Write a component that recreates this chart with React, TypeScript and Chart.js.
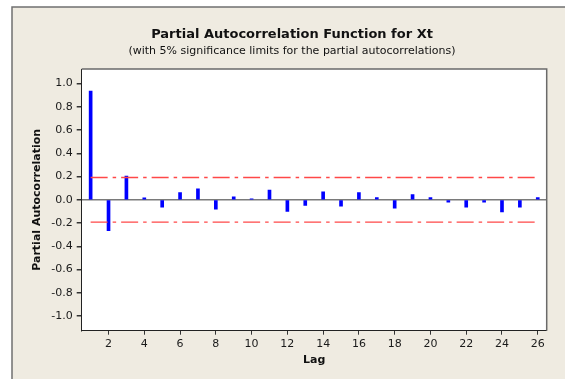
import React, { useEffect, useRef } from 'react';
import { Chart, registerables } from 'chart.js';

Chart.register(...registerables);

const lags = [1, 2, 3, 4, 5, 6, 7, 8, 9, 10, 11, 12, 13, 14, 15, 16, 17, 18, 19, 20, 21, 22, 23, 24, 25, 26];
const pacf = [0.935, -0.265, 0.205, 0.018, -0.064, 0.062, 0.095, -0.08, 0.027, 0.009, 0.085, -0.1, -0.048, 0.07, -0.055, 0.063, 0.02, -0.072, 0.046, 0.02, -0.02, -0.063, -0.02, -0.103, -0.063, 0.02];
const upperLimit = 0.192;
const lowerLimit = -0.192;
const xTickValues = [2, 4, 6, 8, 10, 12, 14, 16, 18, 20, 22, 24, 26];
const yTickValues = [-1.0, -0.8, -0.6, -0.4, -0.2, 0.0, 0.2, 0.4, 0.6, 0.8, 1.0];

const titleText = 'Partial Autocorrelation Function for Xt';
const subtitleText = '(with 5% significance limits for the partial autocorrelations)';
const xTitle = 'Lag';
const yTitle = 'Partial Autocorrelation';

const W = 565;
const H = 379;
const FONT = "'DejaVu Sans', Verdana, sans-serif";

const framePlugin = {
  id: 'minitabFrame',
  beforeDraw(chart: any) {
    const { ctx, chartArea: a } = chart;
    ctx.save();
    ctx.fillStyle = '#ffffff';
    ctx.fillRect(0, 0, W, H);
    ctx.fillStyle = '#efebe1';
    ctx.fillRect(12, 7, W - 12, H - 7);
    ctx.strokeStyle = '#707070';
    ctx.lineWidth = 1.5;
    ctx.beginPath();
    ctx.moveTo(12, H);
    ctx.lineTo(12, 7);
    ctx.lineTo(W, 7);
    ctx.stroke();
    ctx.fillStyle = '#ffffff';
    ctx.fillRect(a.left, a.top, a.right - a.left, a.bottom - a.top);
    ctx.restore();
  },
  afterDraw(chart: any) {
    const { ctx, chartArea: a } = chart;
    ctx.save();
    ctx.strokeStyle = '#6a6a6a';
    ctx.lineWidth = 1.5;
    ctx.beginPath();
    ctx.moveTo(a.left, a.top);
    ctx.lineTo(a.right, a.top);
    ctx.lineTo(a.right, a.bottom);
    ctx.stroke();
    ctx.restore();
  },
};

export default function App() {
  const ref = useRef<HTMLCanvasElement | null>(null);

  useEffect(() => {
    if (!ref.current) return;
    const limitLine = (v: number) => ({
      type: 'line' as const,
      data: [
        { x: lags[0], y: v },
        { x: lags[lags.length - 1], y: v },
      ],
      borderColor: '#ff4848',
      borderWidth: 1.3,
      borderDash: [17, 5, 3.5, 5],
      pointRadius: 0,
      fill: false,
      order: 0,
    });

    const chart = new Chart(ref.current, {
      type: 'bar',
      data: {
        datasets: [
          {
            type: 'bar',
            data: lags.map((l, i) => ({ x: l, y: pacf[i] })),
            backgroundColor: '#0000ff',
            borderWidth: 0,
            barThickness: 3,
            order: 1,
          } as any,
          limitLine(upperLimit) as any,
          limitLine(lowerLimit) as any,
        ],
      },
      options: {
        animation: false,
        responsive: false,
        layout: { padding: { left: 37.3, right: 18.3, top: 0, bottom: 0 } },
        plugins: {
          legend: { display: false },
          tooltip: { enabled: false },
          title: {
            display: true,
            text: titleText,
            color: '#111111',
            font: { family: FONT, size: 13, weight: 'bold', lineHeight: 1.2 },
            padding: { top: 26.9, bottom: 0 },
          },
          subtitle: {
            display: true,
            text: subtitleText,
            color: '#111111',
            font: { family: FONT, size: 11, lineHeight: 1.2 },
            padding: { top: 2.2, bottom: 11.1 },
          },
        },
        scales: {
          x: {
            type: 'linear',
            min: 0.5,
            max: 26.5,
            offset: false,
            afterBuildTicks: (s: any) => {
              s.ticks = xTickValues.map((v) => ({ value: v }));
            },
            afterFit: (s: any) => {
              s.height = 48.3;
            },
            ticks: {
              autoSkip: false,
              maxRotation: 0,
              padding: 3,
              color: '#1a1a1a',
              font: { family: FONT, size: 11 },
            },
            grid: { drawOnChartArea: false, tickLength: 4, tickColor: '#333333', offset: false },
            border: { display: true, color: '#222222', width: 1 },
            title: {
              display: true,
              text: xTitle,
              color: '#111111',
              font: { family: FONT, size: 11, weight: 'bold', lineHeight: 1.2 },
              padding: { top: 0, bottom: 11.9 },
            },
          },
          y: {
            type: 'linear',
            min: -1.125,
            max: 1.125,
            afterBuildTicks: (s: any) => {
              s.ticks = yTickValues.map((v) => ({ value: v }));
            },
            afterFit: (s: any) => {
              s.width = 44.4;
            },
            ticks: {
              autoSkip: false,
              padding: 4,
              color: '#1a1a1a',
              font: { family: FONT, size: 11 },
              callback: (v: any) => Number(v).toFixed(1),
            },
            grid: {
              drawOnChartArea: true,
              color: (c: any) => (c.tick && Math.abs(c.tick.value) < 1e-9 ? '#7a7a7a' : 'rgba(0,0,0,0)'),
              lineWidth: 1.5,
              tickLength: 5,
              tickColor: '#333333',
            },
            border: { display: true, color: '#222222', width: 1 },
            title: {
              display: true,
              text: yTitle,
              color: '#111111',
              font: { family: FONT, size: 11, weight: 'bold', lineHeight: 1.2 },
              padding: { top: -6.9, bottom: 0 },
            },
          },
        },
      } as any,
      plugins: [framePlugin],
    });
    return () => chart.destroy();
  }, []);

  return (
    <div style={{ position: 'absolute', left: 0, top: 0, width: W, height: H }}>
      <canvas ref={ref} width={W} height={H} style={{ display: 'block', width: W, height: H }} />
    </div>
  );
}
